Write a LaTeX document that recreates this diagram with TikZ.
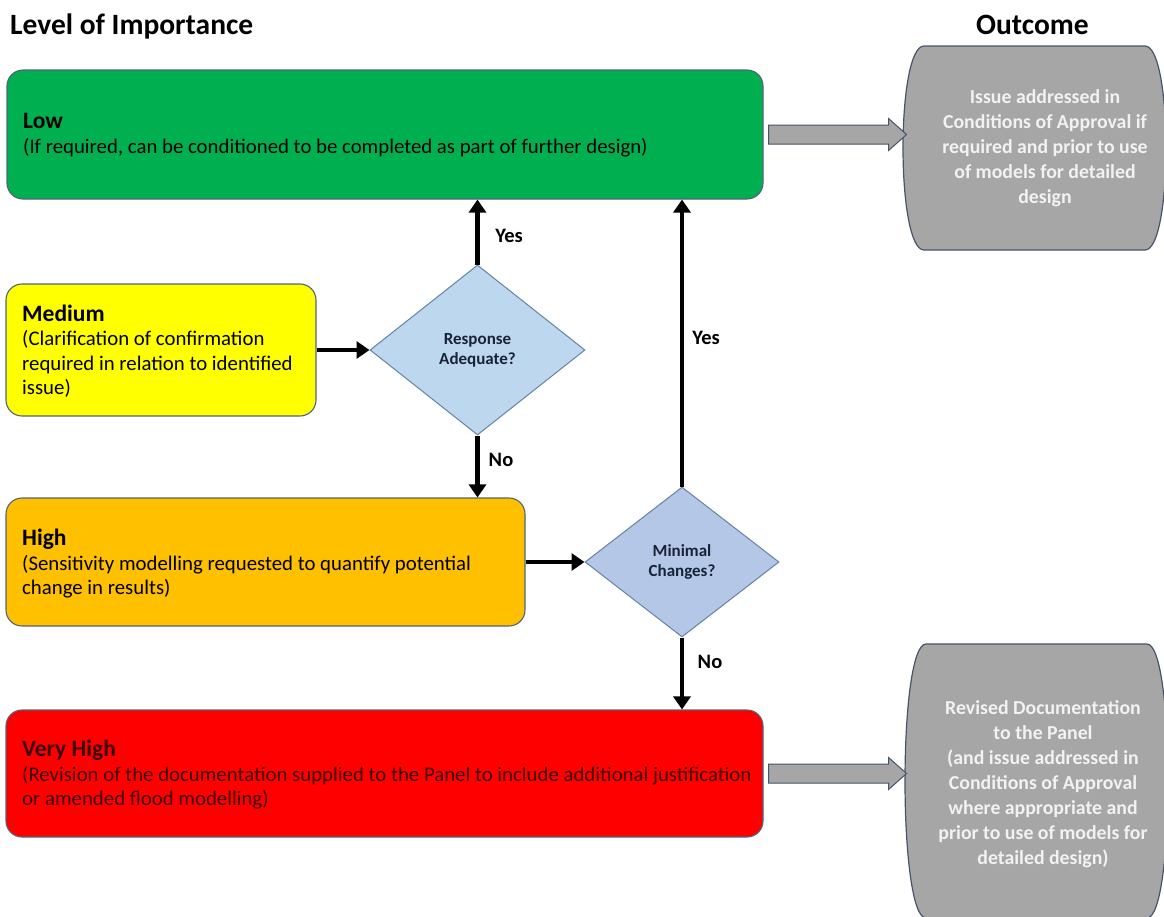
\documentclass[tikz,border=0pt]{standalone}
\usepackage{fontspec}
\setmainfont{Carlito}
\usetikzlibrary{shapes.geometric,arrows.meta}
\definecolor{lowg}{HTML}{00B050}
\definecolor{medy}{HTML}{FFFF00}
\definecolor{higho}{HTML}{FFC000}
\definecolor{vhr}{HTML}{FF0000}
\definecolor{boxline}{RGB}{80,100,120}
\definecolor{dia1}{RGB}{189,215,238}
\definecolor{dia2}{RGB}{180,199,231}
\definecolor{dialine}{RGB}{100,130,165}
\definecolor{outg}{RGB}{166,166,166}
\definecolor{outline}{RGB}{68,84,106}
\definecolor{outtext}{RGB}{242,242,242}
\definecolor{diatext}{RGB}{25,35,55}
\definecolor{vhtext}{RGB}{60,0,0}
\begin{document}
\begin{tikzpicture}[x=1pt,y=-1pt,
  levelbox/.style={draw=boxline, line width=1.1pt, rounded corners=16pt, inner sep=0pt},
  boxtext/.style={anchor=west, align=left, inner sep=0pt, font=\fontsize{20.8}{24.5}\selectfont},
  decision/.style={diamond, draw=dialine, line width=1pt, inner sep=0pt, align=center,
    font=\bfseries\fontsize{17}{20}\selectfont, text=diatext},
  arr/.style={line width=4.5pt, -{Triangle[length=13pt,width=17pt]}},
  lbl/.style={font=\bfseries\fontsize{20.5}{24}\selectfont, inner sep=0pt},
  barrow/.style={draw=outline, line width=1pt, fill=outg},
  outshape/.style={draw=outline, line width=1.2pt, fill=outg},
  outtxt/.style={align=center, inner sep=0pt, text=outtext, font=\bfseries\fontsize{19.8}{25}\selectfont},
  header/.style={anchor=base west, inner sep=0pt, font=\bfseries\fontsize{29.5}{32}\selectfont}
]
\useasboundingbox (0,0) rectangle (1164,916);

% headers
\node[header] (h1) at (10,34) {Level of Importance};
\node[header] (h2) at (976,34) {Outcome};

% level boxes
\node[levelbox, fill=lowg, minimum width=756pt, minimum height=129pt] (low) at (385,134.5) {};
\node[levelbox, fill=medy, minimum width=310pt, minimum height=132pt] (med) at (161,350) {};
\node[levelbox, fill=higho, minimum width=519pt, minimum height=128pt] (high) at (265.5,562) {};
\node[levelbox, fill=vhr, minimum width=757pt, minimum height=127pt] (vh) at (384.5,773.5) {};

\node[boxtext] (lowt) at (23,135) {{\bfseries\fontsize{23.5}{24.5}\selectfont Low}\\(If required, can be conditioned to be completed as part of further design)};
\node[boxtext] (medt) at (22,351) {{\bfseries\fontsize{23.5}{24.5}\selectfont Medium}\\(Clarification of confirmation\\required in relation to identified\\issue)};
\node[boxtext] (hight) at (22,564) {{\bfseries\fontsize{23.5}{24.5}\selectfont High}\\(Sensitivity modelling requested to quantify potential\\change in results)};
\node[boxtext, text=vhtext] (vht) at (22,775) {{\bfseries\fontsize{23.5}{24.5}\selectfont Very High}\\(Revision of the documentation supplied to the Panel to include additional justification\\or amended flood modelling)};

% decisions
\node[decision, fill=dia1, minimum width=215pt, minimum height=170pt] (d1) at (477.5,350) {Response\\Adequate?};
\node[decision, fill=dia2, minimum width=194pt, minimum height=150pt] (d2) at (682,562) {Minimal\\Changes?};

% connectors
\draw[arr] (med.east) -- (d1.west);
\draw[arr] (d1.north) -- (d1.north |- low.south);
\draw[arr] (d1.south) -- (d1.south |- high.north);
\draw[arr] (high.east) -- (d2.west);
\draw[arr] (d2.north) -- (d2.north |- low.south);
\draw[arr] (d2.south) -- (d2.south |- vh.north);

\node[lbl] (y1) at (509,236) {Yes};
\node[lbl] (n1) at (501,460) {No};
\node[lbl] (y2) at (706,338) {Yes};
\node[lbl] (n2) at (710,662) {No};

% outcome shapes
\path[outshape] (924,46) -- (1145,46) .. controls (1173,46) and (1173,250) .. (1145,250)
  -- (924,250) .. controls (896,250) and (896,46) .. (924,46) -- cycle;
\node[outtxt] (out1) at (1045,148.5) {Issue addressed in\\Conditions of Approval if\\required and prior to use\\of models for detailed\\design};

\path[outshape] (926,644) -- (1147,644) .. controls (1175,644) and (1175,918) .. (1147,918)
  -- (926,918) .. controls (898,918) and (898,644) .. (926,644) -- cycle;
\node[outtxt] (out2) at (1043,784) {Revised Documentation\\to the Panel\\(and issue addressed in\\Conditions of Approval\\where appropriate and\\prior to use of models for\\detailed design)};

% block arrows
\draw[barrow] (low.east) ++(5,-9.5) -- ++(120,0) -- ++(0,-6.5) -- ++(18,16) -- ++(-18,16) -- ++(0,-6.5) -- ++(-120,0) -- cycle;
\draw[barrow] (vh.east) ++(5,-9.5) -- ++(120,0) -- ++(0,-6.5) -- ++(18,16) -- ++(-18,16) -- ++(0,-6.5) -- ++(-120,0) -- cycle;
\end{tikzpicture}
\end{document}
